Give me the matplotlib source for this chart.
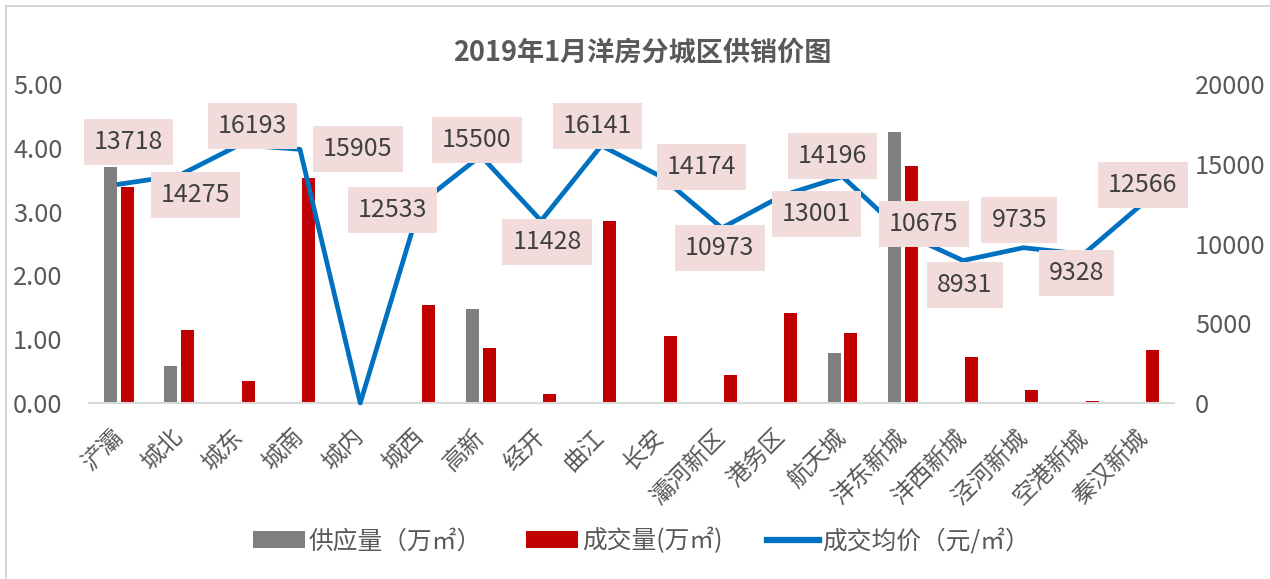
import matplotlib
matplotlib.use('Agg')
from matplotlib import pyplot as plt
from matplotlib.lines import Line2D
import numpy as np

plt.rcParams['font.family'] = ['Noto Sans CJK SC', 'DejaVu Sans']

districts = ['浐灞', '城北', '城东', '城南', '城内', '城西', '高新', '经开', '曲江', '长安',
             '灞河新区', '港务区', '航天城', '沣东新城', '沣西新城', '泾河新城', '空港新城', '秦汉新城']
supply = [3.70, 0.58, 0, 0, 0, 0, 1.47, 0, 0, 0, 0, 0, 0.79, 4.24, 0, 0, 0, 0]
deals = [3.38, 1.14, 0.34, 3.53, 0, 1.53, 0.86, 0.14, 2.85, 1.05, 0.44, 1.41, 1.10, 3.72, 0.72, 0.20, 0.03, 0.83]
price = [13718, 14275, 16193, 15905, 0, 12533, 15500, 11428, 16141, 14174,
         10973, 13001, 14196, 10675, 8931, 9735, 9328, 12566]

# label placement (pixels from point), None = no label
label_offsets = [(9, 42), (16, -20), (13, 19), (58, 0), None, (-28, -7), (-4, 16), (6, -21),
                 (-4, 20), (40, 10), (-2, -20), (34, -18), (-10, 21), (21, 9), (2, -24),
                 (-4, 28), (-7, -19), (-1, 18)]

grey_txt = '#595959'

fig = plt.figure(figsize=(12.7, 5.79), dpi=100)
ax = fig.add_axes([89 / 1270, 176 / 579, 1085 / 1270, 319 / 579])
x = np.arange(len(districts))
w = 0.215
ax.bar(x - 0.14, supply, w, color='#7F7F7F', label='供应量（万㎡）', zorder=2)
ax.bar(x + 0.14, deals, w, color='#C00000', label='成交量(万㎡)', zorder=2)
ax.set_xlim(-0.5, len(districts) - 0.5)
ax.set_ylim(0, 5)
ax.set_yticks(np.arange(0, 5.01, 1))
ax.set_yticklabels(['%.2f' % v for v in np.arange(0, 5.01, 1)])
ax.set_xticks(x)
ax.set_xticklabels(districts, rotation=45, ha='right', va='center', rotation_mode='anchor')
for s in ['top', 'right', 'left']:
    ax.spines[s].set_visible(False)
ax.spines['bottom'].set_color('#D9D9D9')
ax.spines['bottom'].set_linewidth(1.5)
ax.tick_params(axis='y', length=0, pad=19, labelsize=18.3, labelcolor=grey_txt)
ax.tick_params(axis='x', length=0, pad=22, labelsize=17, labelcolor=grey_txt)

ax2 = ax.twinx()
ax2.plot(x, price, color='#0070C0', lw=3.4, label='成交均价（元/㎡）', clip_on=False, zorder=3)
ax2.set_ylim(0, 20000)
ax2.set_yticks(range(0, 20001, 5000))
for s in ['top', 'right', 'left', 'bottom']:
    ax2.spines[s].set_visible(False)
ax2.tick_params(axis='y', length=0, pad=15, labelsize=18.3, labelcolor=grey_txt)

for xi, v, off in zip(x, price, label_offsets):
    if off is None:
        continue
    ax2.annotate(str(v), (xi, v), xytext=off, textcoords='offset pixels',
                 ha='center', va='center', fontsize=18, color='#404040', zorder=5,
                 bbox=dict(boxstyle='square,pad=0.4', fc='#F2DCDB', ec='none'))

fig.text(0.506, 0.91, '2019年1月洋房分城区供销价图', ha='center', va='center',
         fontsize=19.5, fontweight='bold', color=grey_txt)

h1, l1 = ax.get_legend_handles_labels()
h2, l2 = ax2.get_legend_handles_labels()
leg = fig.legend(h1 + h2, l1 + l2, loc='center', bbox_to_anchor=(0.505, 1 - 541 / 579), ncol=3,
                 frameon=False, fontsize=17.8, handlelength=2.1, handleheight=0.68,
                 columnspacing=1.8, handletextpad=0.15)
for t in leg.get_texts():
    t.set_color(grey_txt)
leg.get_lines()[0].set_linewidth(4.5)

# chart area border
fig.add_artist(Line2D([6 / 1270, 6 / 1270], [0, 1 - 6 / 579], color='#D0D0D0', lw=1.2))
fig.add_artist(Line2D([6 / 1270, 1], [1 - 6 / 579, 1 - 6 / 579], color='#D0D0D0', lw=1.2))

plt.savefig('out.png', dpi=100)
